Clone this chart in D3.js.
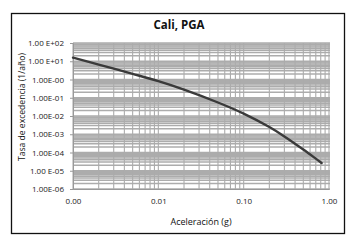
<!DOCTYPE html>
<html><head><meta charset="utf-8">
<script src="https://cdn.jsdelivr.net/npm/d3@7"></script>
<style>body{margin:0;background:#fff}svg{display:block}</style>
</head><body>
<script>
const title = "Cali, PGA";
const xLabel = "Aceleración (g)";
const yLabel = "Tasa de excedencia (1/año)";
const accel = [0.001, 0.002, 0.005, 0.01, 0.02, 0.05, 0.1, 0.2, 0.3, 0.5, 0.7, 0.82];
const rate  = [15.8, 6.6, 2.04, 0.81, 0.28, 0.055, 0.0135, 0.00247, 7.6e-4, 1.45e-4, 4.6e-5, 2.65e-5];
const yTickVals = [1e2, 1e1, 1e0, 1e-1, 1e-2, 1e-3, 1e-4, 1e-5, 1e-6];
const yTickLabels = ["1.00 E+02","1.00 E+01","1.00E-00","1.00E-01","1.00E-02","1.00E-03","1.00E-04","1.00 E-05","1.00E-06"];
const xTickVals = [0.001, 0.01, 0.1, 1];
const xTickLabels = ["0.00","0.01","0.10","1.00"];

const W = 359, H = 242;
const svg = d3.select("body").append("svg").attr("width", W).attr("height", H);
const L = 73, R = 329, T = 43, B = 189;
const x = d3.scaleLog().domain([0.001, 1]).range([L, R]);
const y = d3.scaleLog().domain([1e-6, 1e2]).range([B, T]);

svg.append("rect").attr("x", 11.5).attr("y", 13.5).attr("width", 333).attr("height", 220)
  .attr("fill", "#fff").attr("stroke", "#111").attr("stroke-width", 1.3);

const xMinor = [], yMinor = [];
for (let e = -3; e < 0; e++) for (let m = 1; m <= 9; m++) xMinor.push(m * Math.pow(10, e));
xMinor.push(1);
for (let e = -6; e < 2; e++) for (let m = 1; m <= 9; m++) yMinor.push(m * Math.pow(10, e));
yMinor.push(100);

const g = svg.append("g");
g.selectAll("line.h").data(yMinor).enter().append("line")
  .attr("x1", L).attr("x2", R + 1).attr("y1", d => y(d)).attr("y2", d => y(d))
  .attr("stroke", "#acacac").attr("stroke-width", 1.4);
g.selectAll("line.v").data(xMinor).enter().append("line")
  .attr("x1", d => x(d)).attr("x2", d => x(d)).attr("y1", T).attr("y2", B)
  .attr("stroke", "#acacac").attr("stroke-width", 1.1);

const yAxis = d3.axisLeft(y).tickValues(yTickVals).tickSize(3).tickFormat((d, i) => yTickLabels[i]);
const ya = svg.append("g").attr("transform", `translate(${L},0)`).call(yAxis);
ya.select(".domain").attr("stroke", "#999");
ya.selectAll(".tick line").attr("stroke", "#999");
ya.selectAll("text").attr("font-family", "Open Sans, sans-serif").attr("font-size", 8).attr("fill", "#222").attr("dx", -3);

const xAxis = d3.axisBottom(x).tickValues(xTickVals).tickSize(0).tickFormat((d, i) => xTickLabels[i]);
const xa = svg.append("g").attr("transform", `translate(0,${B})`).call(xAxis);
xa.select(".domain").attr("stroke", "#999");
xa.selectAll("text").attr("font-family", "Open Sans, sans-serif").attr("font-size", 8).attr("fill", "#222").attr("dy", "1.5em");

const line = d3.line().x((d, i) => x(accel[i])).y(d => y(d)).curve(d3.curveCatmullRom.alpha(0.5));
svg.append("path").datum(rate).attr("d", line).attr("fill", "none")
  .attr("stroke", "#3a3a3a").attr("stroke-width", 2.4).attr("stroke-linecap", "round");

svg.append("text").attr("x", 179).attr("y", 29).attr("text-anchor", "middle")
  .attr("font-family", "Open Sans, sans-serif").attr("font-weight", "bold").attr("font-size", 11.5)
  .attr("fill", "#111").text(title);
svg.append("text").attr("x", 201).attr("y", 225).attr("text-anchor", "middle")
  .attr("font-family", "Open Sans, sans-serif").attr("font-size", 9).attr("fill", "#111").text(xLabel);
svg.append("text").attr("transform", "translate(25,107) rotate(-90)").attr("text-anchor", "middle")
  .attr("font-family", "Open Sans, sans-serif").attr("font-size", 8.5)
  .attr("textLength", 108).attr("lengthAdjust", "spacingAndGlyphs")
  .attr("fill", "#111").text(yLabel);
</script>
</body></html>
